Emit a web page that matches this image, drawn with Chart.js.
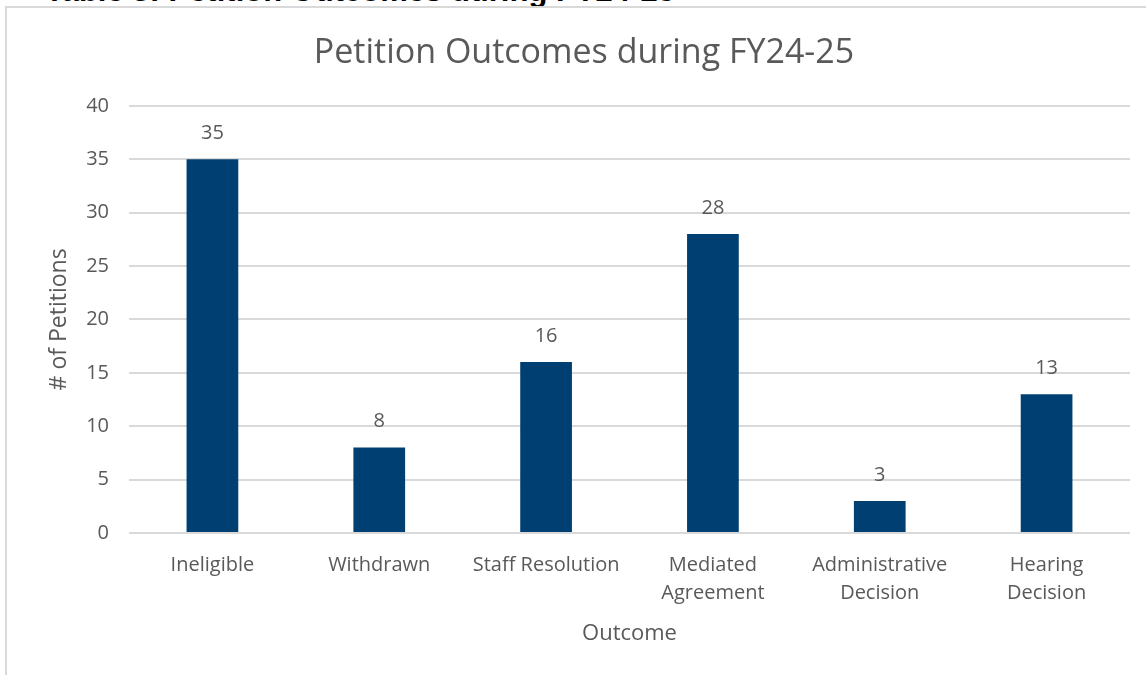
<!DOCTYPE html>
<html>
<head>
<meta charset="utf-8">
<script src="https://cdn.jsdelivr.net/npm/chart.js@4.4.1/dist/chart.umd.min.js"></script>
<style>
  html, body { margin: 0; padding: 0; background: #fff; overflow: hidden; }
  #frame {
    position: absolute; left: 5px; top: 6px; width: 1160px; height: 700px;
    border: 2px solid #d9d9d9; box-sizing: border-box;
  }
  #caption {
    position: absolute; left: 45px; top: 0; width: 800px; height: 6px; overflow: hidden;
  }
  #caption div {
    position: relative; top: -25px; white-space: nowrap;
    font: bold 31px/31px 'Liberation Sans', Arial, sans-serif; color: #000;
  }
  #wrap { position: absolute; left: 0; top: 0; width: 1146px; height: 675px; }
</style>
</head>
<body>
<div id="caption"><div>Table 3: Petition Outcomes during FY24-25</div></div>
<div id="frame"></div>
<div id="wrap"><canvas id="myChart"></canvas></div>
<script>
const categories = [
  "Ineligible",
  "Withdrawn",
  "Staff Resolution",
  ["Mediated", "Agreement"],
  ["Administrative", "Decision"],
  ["Hearing", "Decision"]
];
const petitionCounts = [35, 8, 16, 28, 3, 13];
const yTicks = [0, 5, 10, 15, 20, 25, 30, 35, 40];

const textColor = "#595959";
const fontFamily = "'Open Sans', 'Liberation Sans', sans-serif";

// draws the value above each bar
const barValues = {
  id: "barValues",
  afterDatasetsDraw(chart) {
    const ctx = chart.ctx;
    const meta = chart.getDatasetMeta(0);
    ctx.save();
    ctx.font = "20px " + fontFamily;
    ctx.fillStyle = textColor;
    ctx.textAlign = "center";
    ctx.textBaseline = "middle";
    meta.data.forEach((bar, i) => {
      ctx.fillText(String(petitionCounts[i]), bar.x, bar.y - 26);
    });
    ctx.restore();
  }
};

document.addEventListener("DOMContentLoaded", function () {
  const ctx = document.getElementById("myChart").getContext("2d");

  new Chart(ctx, {
    type: "bar",
    data: {
      labels: categories,
      datasets: [
        {
          label: "# of Petitions",
          data: petitionCounts,
          backgroundColor: "#003f72",
          categoryPercentage: 1,
          barPercentage: 0.31
        }
      ]
    },
    options: {
      responsive: true,
      maintainAspectRatio: false,
      animation: false,
      layout: { padding: { left: 38, right: 16, top: 10, bottom: 9 } },
      plugins: {
        legend: { display: false },
        tooltip: { enabled: false },
        title: {
          display: true,
          text: "Petition Outcomes during FY24-25",
          color: textColor,
          font: { family: fontFamily, size: 34, weight: "normal" },
          padding: { top: 23, bottom: 32 }
        }
      },
      scales: {
        x: {
          grid: { display: false },
          border: { display: false },
          ticks: {
            color: textColor,
            font: { family: fontFamily, size: 20, lineHeight: 1.4 },
            padding: 10,
            maxRotation: 0,
            autoSkip: false
          },
          title: {
            display: true,
            text: "Outcome",
            color: textColor,
            font: { family: fontFamily, size: 22 },
            padding: { top: 10, bottom: 19 }
          },
          afterFit(scale) { scale.height = 133; }
        },
        y: {
          min: 0,
          max: 40,
          afterBuildTicks(scale) {
            scale.ticks = yTicks.map((v) => ({ value: v }));
          },
          grid: { color: "#d9d9d9", lineWidth: 2, drawTicks: false },
          border: { display: false },
          ticks: {
            color: textColor,
            font: { family: fontFamily, size: 20 },
            padding: 20
          },
          title: {
            display: true,
            text: "# of Petitions",
            color: textColor,
            font: { family: fontFamily, size: 23 },
            padding: { top: 8, bottom: 0 }
          },
          afterFit(scale) { scale.width = 91; }
        }
      }
    },
    plugins: [barValues]
  });
});
</script>
</body>
</html>
